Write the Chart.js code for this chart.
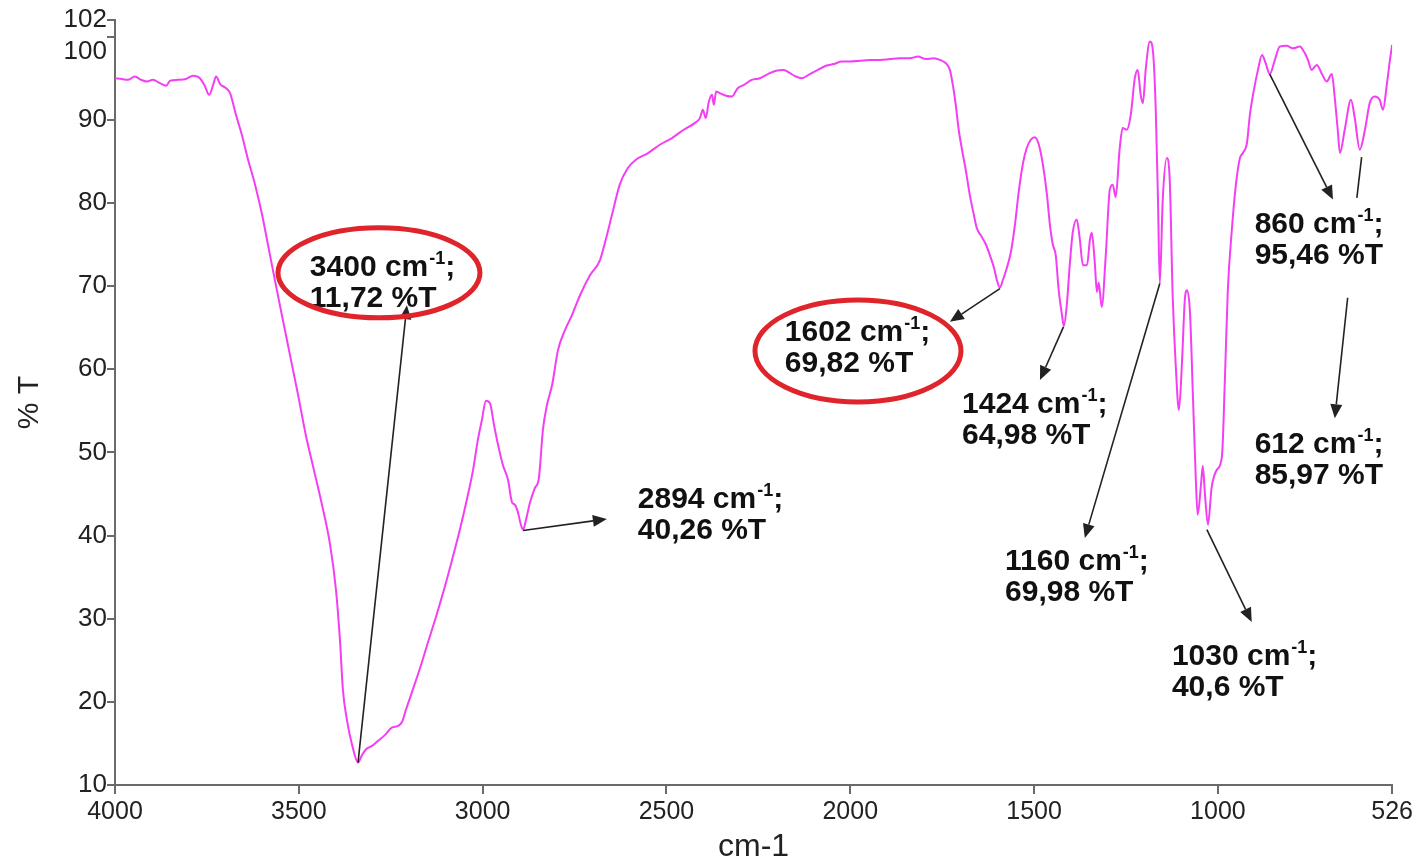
<!DOCTYPE html>
<html>
<head>
<meta charset="utf-8">
<script src="https://cdn.jsdelivr.net/npm/chart.js@4.4.1/dist/chart.umd.min.js"></script>
<style>
  html, body { margin: 0; padding: 0; background: #fff; }
  #wrap { width: 1416px; height: 866px; position: relative; }
</style>
</head>
<body>
<div id="wrap"><canvas id="ir"></canvas></div>
<script>
// spectrum (wavenumber in cm-1, transmittance in %T)
const wavenumber = [
  4000,3981,3965,3946,3929,3913,3897,3878,3861,3850,
  3829,3807,3788,3769,3755,3744,3733,3725,3714,3698,
  3687,3671,3655,3638,3619,3600,3584,3565,3546,3524,
  3502,3481,3459,3437,3415,3399,3388,3380,3369,3355,
  3339,3328,3317,3301,3285,3266,3247,3230,3219,3209,
  3192,3170,3149,3127,3105,3083,3062,3043,3026,3013,
  3002,2991,2980,2969,2958,2945,2931,2920,2912,2904,
  2896,2890,2882,2871,2858,2847,2836,2825,2811,2795,
  2776,2757,2735,2708,2681,2665,2648,2627,2605,2583,
  2550,2518,2485,2453,2423,2409,2401,2393,2385,2376,
  2371,2365,2355,2338,2322,2306,2289,2268,2246,2224,
  2202,2181,2164,2148,2132,2110,2088,2066,2045,2023,
  2001,1974,1947,1919,1892,1865,1838,1816,1794,1773,
  1756,1740,1729,1721,1713,1705,1696,1686,1675,1664,
  1656,1642,1631,1620,1609,1601,1593,1585,1574,1563,
  1552,1541,1530,1520,1509,1498,1487,1476,1465,1457,
  1449,1441,1433,1424,1419,1411,1403,1395,1384,1376,
  1367,1356,1348,1343,1335,1329,1324,1316,1305,1294,
  1286,1278,1267,1259,1248,1237,1226,1218,1210,1204,
  1196,1185,1177,1169,1163,1158,1150,1139,1131,1123,
  1114,1106,1098,1090,1084,1076,1068,1060,1055,1046,
  1041,1036,1027,1017,1003,989,981,973,962,951,
  940,932,921,913,902,891,880,870,859,845,
  832,813,796,777,766,755,745,731,717,704,
  690,682,674,668,655,638,628,614,600,587,
  573,560,551,540,532,526
];
const transmittance = [
  95.0,94.9,94.8,95.2,94.8,94.6,94.8,94.4,94.1,94.7,
  94.8,94.9,95.3,95.0,94.0,93.0,94.2,95.2,94.3,93.8,
  93.2,90.6,88.2,85.2,82.2,78.6,75.0,70.7,66.5,61.7,
  56.9,52.1,47.9,43.7,38.9,33.5,27.4,21.4,17.8,14.8,
  12.7,13.6,14.3,14.7,15.3,16.0,16.9,17.1,17.6,19.0,
  21.2,24.1,27.1,30.2,33.5,37.1,40.7,44.3,47.9,51.5,
  53.9,56.2,55.9,53.3,50.9,48.5,46.7,44.0,43.7,42.8,
  41.3,40.7,41.9,44.0,45.7,46.9,52.7,55.7,58.1,62.3,
  64.7,66.5,68.9,71.3,73.1,75.6,78.6,82.2,84.2,85.2,
  86.0,87.0,87.8,88.8,89.6,90.2,91.2,90.2,92.1,93.0,
  91.8,93.4,93.2,92.9,92.8,93.8,94.2,94.8,95.0,95.5,
  95.9,96.0,95.6,95.2,95.0,95.5,96.0,96.5,96.7,97.0,
  97.0,97.1,97.2,97.2,97.3,97.4,97.4,97.6,97.3,97.4,
  97.2,96.8,96.0,94.2,91.8,88.8,86.4,84.0,81.0,78.6,
  77.0,75.9,75.0,73.7,72.2,70.7,69.8,70.7,72.2,74.1,
  77.4,81.6,84.8,86.6,87.6,87.9,87.0,84.6,81.0,77.4,
  75.0,73.7,69.5,66.5,65.2,67.7,72.5,76.4,78.0,75.8,
  72.5,72.5,75.6,76.4,72.9,69.3,70.4,67.5,73.7,81.6,
  82.2,80.7,86.6,89.0,88.8,90.6,95.0,96.0,93.0,92.0,
  96.2,99.4,98.4,91.2,80.4,70.3,80.4,85.4,82.8,68.9,
  59.9,55.1,60.5,68.3,69.5,66.9,56.9,46.7,42.5,46.1,
  48.4,45.5,41.3,45.8,47.9,49.5,58.7,69.5,76.8,82.2,
  85.4,86.0,87.2,90.6,93.6,96.0,97.8,96.8,95.5,97.2,
  98.8,98.9,98.6,98.8,98.2,97.2,96.0,96.6,95.5,94.6,
  95.5,92.6,88.8,86.0,88.8,92.4,90.3,86.4,88.8,92.0,
  92.8,92.4,91.2,94.4,97.2,99.0
];

const xTicks = [4000, 3500, 3000, 2500, 2000, 1500, 1000, 526];
const yTicks = [10, 20, 30, 40, 50, 60, 70, 80, 90, 100, 102];

// peak labels as printed on the figure
const peakWn = ['3400', '2894', '1602', '1424', '1160', '1030', '860', '612'];
const peakT  = ['11,72', '40,26', '69,82', '64,98', '69,98', '40,6', '95,46', '85,97'];

// where each label sits, in data units (wavenumber, %T)
// p = point on curve, a = arrow tip, l = left / first line of text
const peakLayout = [
  { p: [3339, 12.7], a: [3206, 67.7], l: [3470, 72.2], ring: [3282, 71.6, 101, 45] },
  { p: [2890, 40.6], a: [2662, 42.0], l: [2578, 44.3] },
  { p: [1593, 69.7], a: [1729, 65.7], l: [2178, 64.4], ring: [1979, 62.2, 103, 51] },
  { p: [1420, 65.1], a: [1484, 58.7], l: [1696, 55.7] },
  { p: [1158, 70.3], a: [1362, 39.7], l: [1579, 36.8] },
  { p: [1030, 40.7], a: [908, 29.6],  l: [1125, 25.4] },
  { p: [859, 95.5],  a: [687, 80.4],  l: [900, 77.4] },
  { p: [647, 68.6],  a: [682, 54.1],  l: [900, 50.9], stub: [[609, 85.5], [622, 80.6]] }
];

const FONT = '"Liberation Sans", Arial, Helvetica, sans-serif';
const AXIS_FONT = '"Liberation Sans", Arial, sans-serif';

function drawArrow(ctx, x1, y1, x2, y2) {
  const ang = Math.atan2(y2 - y1, x2 - x1);
  const L = 14, W = 6;
  const bx = x2 - L * Math.cos(ang), by = y2 - L * Math.sin(ang);
  ctx.beginPath();
  ctx.moveTo(x1, y1);
  ctx.lineTo(bx, by);
  ctx.stroke();
  ctx.beginPath();
  ctx.moveTo(x2, y2);
  ctx.lineTo(bx + W * Math.sin(ang), by - W * Math.cos(ang));
  ctx.lineTo(bx - W * Math.sin(ang), by + W * Math.cos(ang));
  ctx.closePath();
  ctx.fill();
}

function drawLabel(ctx, x0, y0, wn, t) {
  ctx.textAlign = 'left';
  ctx.textBaseline = 'middle';
  ctx.fillStyle = '#111';
  ctx.font = 'bold 30px ' + FONT;
  const head = wn + ' cm';
  ctx.fillText(head, x0, y0);
  let w = ctx.measureText(head).width;
  ctx.font = 'bold 18px ' + FONT;
  ctx.fillText('-1', x0 + w + 1, y0 - 9);
  w += ctx.measureText('-1').width + 1;
  ctx.font = 'bold 30px ' + FONT;
  ctx.fillText(';', x0 + w, y0);
  ctx.fillText(t + ' %T', x0, y0 + 31);
}

const peakPlugin = {
  id: 'peakLabels',
  afterDatasetsDraw(chart) {
    const { ctx, scales: { x, y } } = chart;
    ctx.save();
    ctx.strokeStyle = '#222';
    ctx.lineWidth = 1.6;
    peakLayout.forEach((pk, i) => {
      if (pk.stub) {
        ctx.beginPath();
        ctx.moveTo(x.getPixelForValue(pk.stub[0][0]), y.getPixelForValue(pk.stub[0][1]));
        ctx.lineTo(x.getPixelForValue(pk.stub[1][0]), y.getPixelForValue(pk.stub[1][1]));
        ctx.stroke();
      }
      ctx.fillStyle = '#222';
      drawArrow(ctx,
        x.getPixelForValue(pk.p[0]), y.getPixelForValue(pk.p[1]),
        x.getPixelForValue(pk.a[0]), y.getPixelForValue(pk.a[1]));
      drawLabel(ctx, x.getPixelForValue(pk.l[0]), y.getPixelForValue(pk.l[1]), peakWn[i], peakT[i]);
      if (pk.ring) {
        ctx.save();
        ctx.strokeStyle = '#e0242b';
        ctx.lineWidth = 5;
        ctx.beginPath();
        ctx.ellipse(x.getPixelForValue(pk.ring[0]), y.getPixelForValue(pk.ring[1]),
          pk.ring[2], pk.ring[3], 0, 0, Math.PI * 2);
        ctx.stroke();
        ctx.restore();
      }
    });
    ctx.restore();
  }
};

const canvas = document.getElementById('ir');

new Chart(canvas, {
  type: 'line',
  data: {
    datasets: [{
      data: wavenumber.map((w, i) => ({ x: w, y: transmittance[i] })),
      borderColor: '#f43ef4',
      borderWidth: 2,
      pointRadius: 0,
      cubicInterpolationMode: 'monotone',
      fill: false
    }]
  },
  options: {
    responsive: true,
    maintainAspectRatio: false,
    animation: false,
    layout: { padding: { left: 0, top: 20, right: 23, bottom: 0 } },
    plugins: {
      legend: { display: false },
      tooltip: { enabled: false }
    },
    scales: {
      x: {
        type: 'linear',
        reverse: true,
        min: 526,
        max: 4000,
        afterBuildTicks: (scale) => { scale.ticks = xTicks.map(v => ({ value: v })); },
        afterFit: (scale) => { scale.height = 81; },
        border: { display: true, color: '#6a6a6a', width: 2 },
        grid: { display: true, drawOnChartArea: false, drawTicks: true, tickLength: 9, color: '#6a6a6a', lineWidth: 2 },
        ticks: {
          autoSkip: false,
          maxRotation: 0,
          padding: 3,
          color: '#222',
          font: { family: AXIS_FONT, size: 25 },
          callback: (v) => String(v)
        },
        title: {
          display: true,
          text: 'cm-1',
          color: '#222',
          padding: 0,
          font: { family: AXIS_FONT, size: 32 }
        }
      },
      y: {
        min: 10,
        max: 102,
        afterBuildTicks: (scale) => { scale.ticks = yTicks.map(v => ({ value: v })); },
        afterFit: (scale) => { scale.width = 115; },
        border: { display: true, color: '#6a6a6a', width: 2 },
        grid: { display: true, drawOnChartArea: false, drawTicks: true, tickLength: 8, color: '#6a6a6a', lineWidth: 2 },
        ticks: {
          autoSkip: false,
          padding: 0,
          color: '#222',
          font: { family: AXIS_FONT, size: 26 },
          // 100 is nudged down under 102, as on the original
          callback: (v) => (v === 100 ? ['', '100'] : String(v))
        },
        title: {
          display: true,
          text: '% T',
          color: '#222',
          padding: { top: 12, bottom: 0 },
          font: { family: AXIS_FONT, size: 30 }
        }
      }
    }
  },
  plugins: [peakPlugin]
});
</script>
</body>
</html>
